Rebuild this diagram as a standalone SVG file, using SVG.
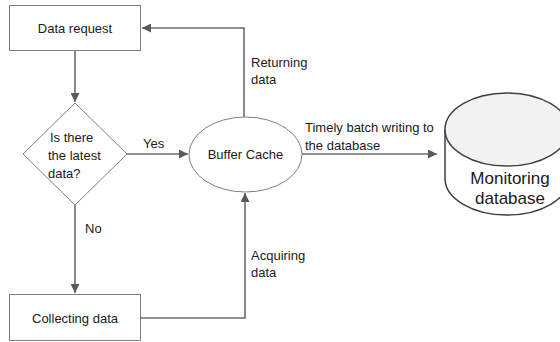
<svg xmlns="http://www.w3.org/2000/svg" width="560" height="342" viewBox="0 0 560 342">
<defs>
<marker id="arr" viewBox="0 0 10 10" refX="10" refY="5" markerWidth="9" markerHeight="9" markerUnits="userSpaceOnUse" orient="auto">
<path d="M0,0 L10,5 L0,10 z" fill="#595959"/>
</marker>
<style>
text{font-family:"Liberation Sans",Arial,sans-serif;font-size:13px;fill:#1a1a1a}
.node{fill:#fff;stroke:#7f7f7f;stroke-width:1}
.conn{fill:none;stroke:#6b6b6b;stroke-width:1.6;marker-end:url(#arr)}
.mid{text-anchor:middle}
.cyl{stroke:#404040;stroke-width:1.5}
</style>
</defs>
<rect width="560" height="342" fill="#fff"/>
<g id="connectors">
<path class="conn" d="M75,50 V102"/>
<path class="conn" d="M127,154 H188"/>
<path class="conn" d="M75,205 V293"/>
<path class="conn" d="M244,117 V28 H142"/>
<path class="conn" d="M141,318 H245 V193"/>
<path class="conn" d="M302,154 H437"/>
<text x="143" y="148">Yes</text>
<text x="85" y="233">No</text>
<text x="251" y="67">Returning</text>
<text x="251" y="84">data</text>
<text x="251" y="260">Acquiring</text>
<text x="251" y="277">data</text>
<text x="305" y="132">Timely batch writing to</text>
<text x="305" y="150">the database</text>
</g>
<g id="data-request">
<rect class="node" x="9.5" y="5.5" width="131" height="45"/>
<text class="mid" x="75" y="32.5">Data request</text>
</g>
<g id="decision">
<polygon class="node" points="75,103 127,154 75,205 23,154"/>
<text x="50" y="142">Is there</text>
<text x="48" y="160">the latest</text>
<text x="48" y="178">data?</text>
</g>
<g id="buffer-cache">
<ellipse class="node" cx="245.5" cy="154.5" rx="56.5" ry="37.5"/>
<text class="mid" x="245.5" y="159">Buffer Cache</text>
</g>
<g id="collecting-data">
<rect class="node" x="9.5" y="294.5" width="131" height="46"/>
<text class="mid" x="75" y="322.5">Collecting data</text>
</g>
<g id="monitoring-database">
<path class="cyl" fill="#fff" d="M445,129.5 V178.5 A62,36.5 0 0 0 569,178.5 V129.5"/>
<ellipse class="cyl" cx="507" cy="129.5" rx="62" ry="36.5" fill="#f2f2f2"/>
<text class="mid" x="510" y="184" style="font-size:17px">Monitoring</text>
<text class="mid" x="510" y="204" style="font-size:17px">database</text>
</g>
</svg>
